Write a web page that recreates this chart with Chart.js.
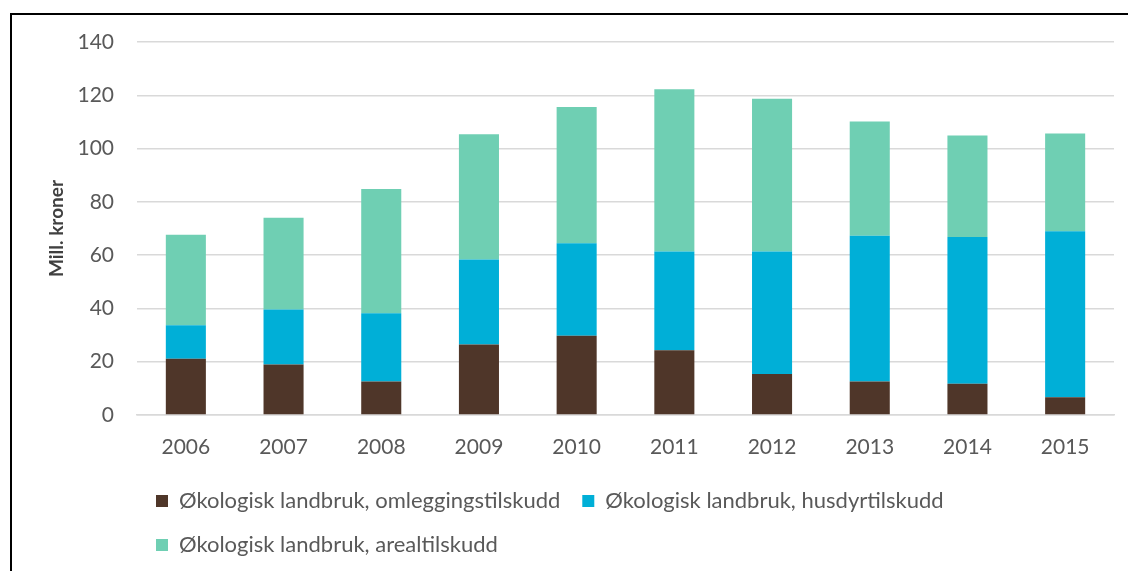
<!DOCTYPE html>
<html>
<head>
<meta charset="utf-8">
<script src="https://cdn.jsdelivr.net/npm/chart.js@4"></script>
<style>
  html, body { margin: 0; padding: 0; background: #fff; }
  #wrap { position: relative; width: 1128px; height: 571px; }
  #frame { position: absolute; left: 10px; top: 13px; right: 0; bottom: 0;
           border-top: 2px solid #000; border-left: 2px solid #000; pointer-events: none; }
</style>
</head>
<body>
<div id="wrap">
  <canvas id="myChart" width="1128" height="571"></canvas>
  <div id="frame"></div>
</div>
<script>
var years = ['2006', '2007', '2008', '2009', '2010', '2011', '2012', '2013', '2014', '2015'];
var omlegging = [21.1, 19.0, 12.6, 26.5, 29.7, 24.3, 15.4, 12.6, 11.7, 6.7];
var husdyr = [12.6, 20.6, 25.6, 31.9, 34.8, 37.1, 46.0, 54.7, 55.1, 62.3];
var areal = [34.0, 34.4, 46.6, 47.0, 51.1, 60.9, 57.3, 42.9, 38.1, 36.7];
var yTicks = [0, 20, 40, 60, 80, 100, 120, 140];

var fontName = 'Lato';

// excel style legend: rows start at the left, not centred
var legendLeft = {
    id: 'legendLeft',
    afterLayout: function(chart){
        chart.legend.left = 134;
    }
};

var dataObj = {
    type: 'bar',
    data: {
        labels: years,
        datasets: [{
            label: 'Økologisk landbruk, omleggingstilskudd',
            data: omlegging,
            backgroundColor: '#4f3629'
        }, {
            label: 'Økologisk landbruk, husdyrtilskudd',
            data: husdyr,
            backgroundColor: '#00afd7'
        }, {
            label: 'Økologisk landbruk, arealtilskudd',
            data: areal,
            backgroundColor: '#6fcfb3'
        }]
    },
    options: {
        responsive: false,
        animation: false,
        layout: {
            padding: { left: 0, right: 14, top: 42, bottom: 5 }
        },
        datasets: {
            bar: { barPercentage: 0.41, categoryPercentage: 1 }
        },
        plugins: {
            tooltip: { enabled: false },
            legend: {
                position: 'bottom',
                align: 'start',
                labels: {
                    boxWidth: 12,
                    boxHeight: 12,
                    padding: 22,
                    color: '#595959',
                    font: { family: fontName, size: 22 }
                }
            }
        },
        scales: {
            x: {
                stacked: true,
                grid: { display: false, drawTicks: false },
                border: { color: '#d9d9d9', width: 1.5 },
                ticks: {
                    color: '#595959',
                    padding: 20,
                    font: { family: fontName, size: 21 }
                },
                afterFit: function(scale){
                    scale.height = 53;
                }
            },
            y: {
                stacked: true,
                min: 0,
                max: 140,
                afterBuildTicks: function(scale){
                    scale.ticks = yTicks.map(function(v){ return { value: v }; });
                },
                grid: { color: '#d9d9d9', lineWidth: 1.5, drawTicks: false },
                border: { display: false },
                ticks: {
                    color: '#595959',
                    padding: 23,
                    font: { family: fontName, size: 21 }
                },
                title: {
                    display: true,
                    text: 'Mill. kroner',
                    color: '#404040',
                    padding: { top: 45, bottom: 0 },
                    font: { family: fontName, size: 19, weight: 'bold' }
                },
                afterFit: function(scale){
                    scale.width = 137;
                }
            }
        }
    },
    plugins: [legendLeft]
};

var ctx = document.getElementById('myChart').getContext('2d');
window.myBar = new Chart(ctx, dataObj);
</script>
</body>
</html>
